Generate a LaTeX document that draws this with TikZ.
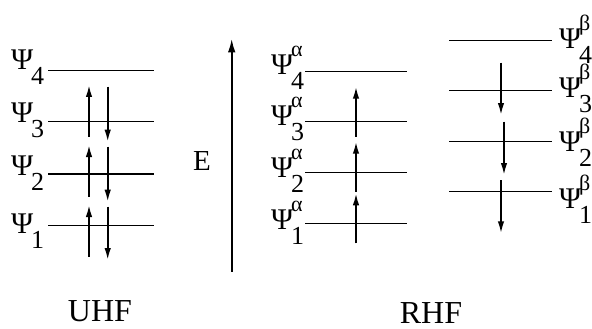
\documentclass[tikz,border=0pt]{standalone}
\usepackage{fontspec}
\setmainfont{Liberation Serif}
\usetikzlibrary{arrows.meta}
\newcommand\PsiLab[2]{\fontsize{30}{30}\selectfont Ψ\kern-2pt\rlap{\raisebox{18pt}{\fontsize{22}{22}\selectfont #2}}\raisebox{-15pt}{\fontsize{26}{26}\selectfont #1}}
\begin{document}
\begin{tikzpicture}[x=1pt,y=-1pt,
  level/.style={line width=1.3pt},
  spin/.style={line width=1.8pt,-{Latex[length=12pt,width=6.5pt]}},
  axis/.style={line width=2.2pt,-{Latex[length=14pt,width=7.5pt]}},
  lab/.style={anchor=base west,inner sep=0pt,outer sep=0pt},
  title/.style={anchor=base,inner sep=0pt,font=\fontsize{32}{32}\selectfont}]
\useasboundingbox (0,0) rectangle (592,329);
% ---------- UHF ----------
\foreach \i/\y in {1/225.7,2/174,3/121.7,4/70.7}{
  \coordinate (uL\i) at (48,\y); \coordinate (uR\i) at (154,\y);
  \draw[level] (uL\i) -- (uR\i);}
\node[lab] (psiu4) at (11,70) {\PsiLab{4}{}};
\node[lab] (psiu3) at (11,122) {\PsiLab{3}{}};
\node[lab] (psiu2) at (11,175) {\PsiLab{2}{}};
\node[lab] (psiu1) at (11,233) {\PsiLab{1}{}};
\coordinate (ua1) at (89,256.7); \coordinate (ub1) at (89,205);
\coordinate (ua2) at (89,196.7); \coordinate (ub2) at (89,145);
\coordinate (ua3) at (89,136.7); \coordinate (ub3) at (89,85);
\draw[spin] (ua1) -- (ub1); \draw[spin] (ua2) -- (ub2); \draw[spin] (ua3) -- (ub3);
\coordinate (da1) at (107.7,86.7); \coordinate (db1) at (107.7,141.7);
\coordinate (da2) at (107.7,146.7); \coordinate (db2) at (107.7,201.7);
\coordinate (da3) at (107.7,206.7); \coordinate (db3) at (107.7,260);
\draw[spin] (da1) -- (db1); \draw[spin] (da2) -- (db2); \draw[spin] (da3) -- (db3);
\node[title] (uhf) at (100,321) {UHF};
% ---------- energy axis ----------
\coordinate (e0) at (231.7,271.7); \coordinate (e1) at (231.7,38.3);
\draw[axis] (e0) -- (e1);
\node[anchor=base,inner sep=0pt,font=\fontsize{29}{29}\selectfont] (E) at (202,170) {E};
% ---------- RHF alpha ----------
\foreach \i/\y in {1/223.3,2/172.7,3/121.7,4/71.7}{
  \coordinate (aL\i) at (305,\y); \coordinate (aR\i) at (406.7,\y);
  \draw[level] (aL\i) -- (aR\i);}
\node[lab] (psia4) at (271,75) {\PsiLab{4}{α}};
\node[lab] (psia3) at (271,125) {\PsiLab{3}{α}};
\node[lab] (psia2) at (271,177) {\PsiLab{2}{α}};
\node[lab] (psia1) at (271,229) {\PsiLab{1}{α}};
\coordinate (aa1) at (356,243.3); \coordinate (ab1) at (356,193.3);
\coordinate (aa2) at (356,191.7); \coordinate (ab2) at (356,141.7);
\coordinate (aa3) at (356,136.7); \coordinate (ab3) at (356,86.7);
\draw[spin] (aa1) -- (ab1); \draw[spin] (aa2) -- (ab2); \draw[spin] (aa3) -- (ab3);
% ---------- RHF beta ----------
\foreach \i/\y in {1/191.7,2/141.7,3/90.7,4/40.7}{
  \coordinate (bL\i) at (449.3,\y); \coordinate (bR\i) at (551.7,\y);
  \draw[level] (bL\i) -- (bR\i);}
\node[lab] (psib4) at (559,49) {\PsiLab{4}{β}};
\node[lab] (psib3) at (559,98) {\PsiLab{3}{β}};
\node[lab] (psib2) at (559,151) {\PsiLab{2}{β}};
\node[lab] (psib1) at (559,208) {\PsiLab{1}{β}};
\coordinate (ba1) at (501,62.7); \coordinate (bb1) at (501,115);
\coordinate (ba2) at (504,121.7); \coordinate (bb2) at (504,175);
\coordinate (ba3) at (501,180); \coordinate (bb3) at (501,233.3);
\draw[spin] (ba1) -- (bb1); \draw[spin] (ba2) -- (bb2); \draw[spin] (ba3) -- (bb3);
\node[title] (rhf) at (431,323) {RHF};
\end{tikzpicture}
\end{document}
